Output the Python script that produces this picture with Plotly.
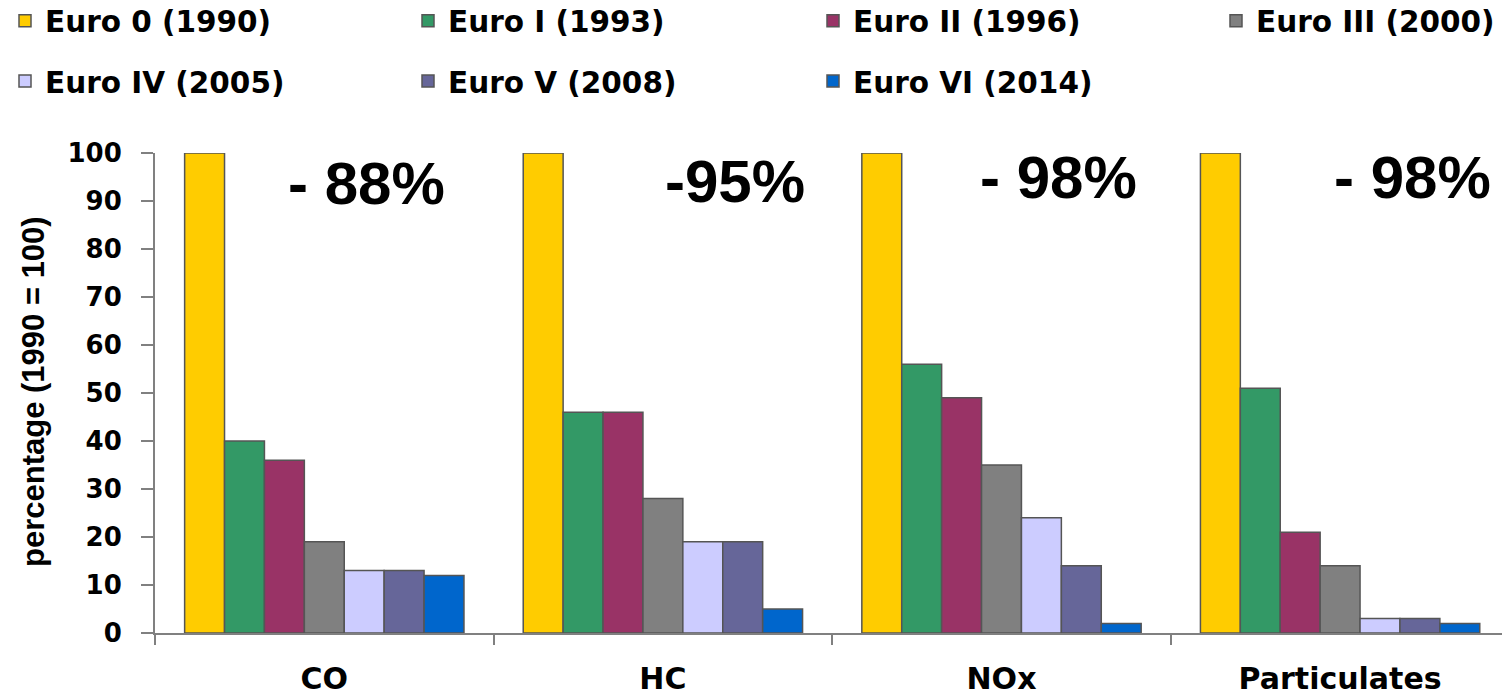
import plotly.graph_objects as go

categories = ["CO", "HC", "NOx", "Particulates"]
series_names = ["Euro 0 (1990)", "Euro I (1993)", "Euro II (1996)", "Euro III (2000)",
                "Euro IV (2005)", "Euro V (2008)", "Euro VI (2014)"]
euro_0 = [100, 100, 100, 100]
euro_1 = [40, 46, 56, 51]
euro_2 = [36, 46, 49, 21]
euro_3 = [19, 28, 35, 14]
euro_4 = [13, 19, 24, 3]
euro_5 = [13, 19, 14, 3]
euro_6 = [12, 5, 2, 2]
reduction_labels = ["- 88%", "-95%", "- 98%", "- 98%"]
y_axis_title = "percentage (1990 = 100)"
y_tick_values = [0, 10, 20, 30, 40, 50, 60, 70, 80, 90, 100]

series_values = [euro_0, euro_1, euro_2, euro_3, euro_4, euro_5, euro_6]
colors = ["#FFCC00", "#339966", "#993366", "#808080", "#CCCCFF", "#666699", "#0066CC"]
legend_of = ["legend", "legend2", "legend3", "legend4", "legend", "legend2", "legend3"]

W, H = 1502, 695
ML, MR, MT, MB = 155, 0, 153, 62
plot_w = W - ML - MR
plot_h = H - MT - MB
cat_px = 338.6

fig = go.Figure()
for name, vals, col, lg in zip(series_names, series_values, colors, legend_of):
    fig.add_trace(go.Bar(
        x=categories, y=vals, name=name,
        marker=dict(color=col, line=dict(color="#555555", width=1.5)),
        legend=lg, legendgroup=name,
    ))

# annotation centres in pixels (layout positions)
ann_px = [(366, 183), (735, 181.5), (1058, 177), (1412, 177.5)]
for txt, (px, py) in zip(reduction_labels, ann_px):
    fig.add_annotation(
        text=txt, xref="paper", yref="paper",
        x=(px - ML) / plot_w, y=(H - MB - py) / plot_h,
        xanchor="center", yanchor="middle", showarrow=False,
        font=dict(family="Liberation Sans", size=60, color="black", weight="bold"),
    )

# y axis title
fig.add_annotation(
    text=y_axis_title, xref="paper", yref="paper",
    x=(33 - ML) / plot_w, y=(H - MB - 392) / plot_h,
    xanchor="center", yanchor="middle", showarrow=False, textangle=-90,
    font=dict(family="Liberation Sans", size=31, color="black", weight="bold"),
)

legend_font = dict(family="DejaVu Sans", size=29.5, color="black", weight="bold")
col_x = [5, 408, 813, 1216]
legend_top_px = -5
common_leg = dict(orientation="v", xref="container", yref="paper", yanchor="top",
                  y=(H - MB - legend_top_px) / plot_h, xanchor="left", font=legend_font,
                  traceorder="grouped", tracegroupgap=19,
                  bgcolor="rgba(0,0,0,0)", borderwidth=0)
fig.update_layout(
    legend=dict(x=col_x[0] / W, **common_leg),
    legend2=dict(x=col_x[1] / W, **common_leg),
    legend3=dict(x=col_x[2] / W, **common_leg),
    legend4=dict(x=col_x[3] / W, **common_leg),
)

fig.update_layout(
    width=W, height=H,
    margin=dict(l=ML, r=MR, t=MT, b=MB, pad=0, autoexpand=False),
    paper_bgcolor="white", plot_bgcolor="white",
    barmode="group", bargap=0.175, bargroupgap=0,
    showlegend=True,
    xaxis=dict(
        type="category", range=[-0.5, -0.5 + plot_w / cat_px],
        showline=True, linecolor="#808080", linewidth=2,
        ticks="outside", tickson="boundaries", ticklen=10, tickwidth=2, tickcolor="#808080",
        showgrid=False, zeroline=False, automargin=False,
        tickfont=dict(family="DejaVu Sans", size=30, color="black", weight="bold"),
        ticklabelstandoff=18,
    ),
    yaxis=dict(
        range=[0, 100], tickvals=y_tick_values, automargin=False,
        showline=True, linecolor="#808080", linewidth=2,
        ticks="outside", ticklen=12, tickwidth=2, tickcolor="#808080",
        showgrid=False, zeroline=False,
        tickfont=dict(family="DejaVu Sans", size=26, color="black", weight="bold"),
        ticklabelstandoff=14,
    ),
)

fig.write_html("out.html", config={"displayModeBar": False},
               post_script="document.body.style.margin='0';")
